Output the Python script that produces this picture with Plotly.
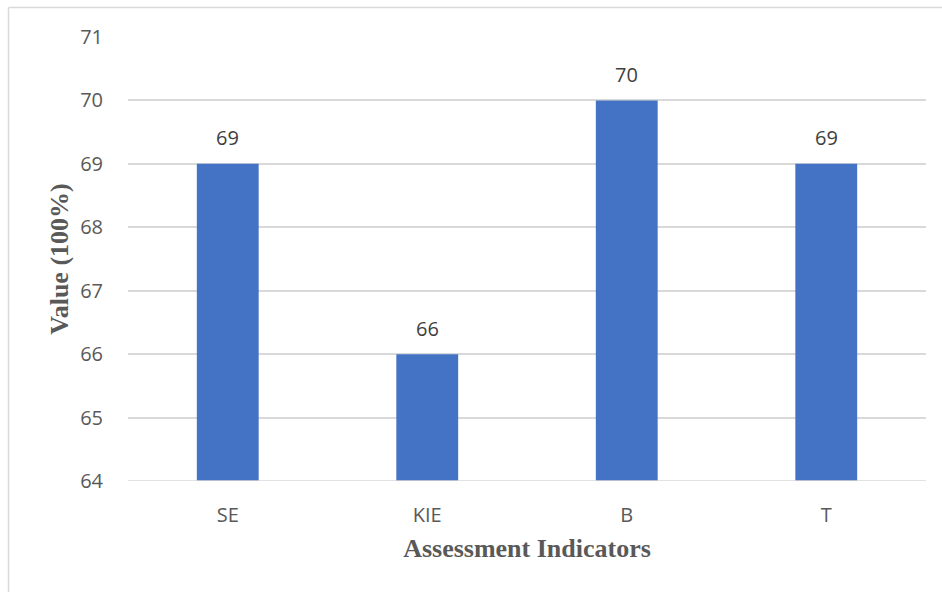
import plotly.graph_objects as go

categories = ["SE", "KIE", "B", "T"]
values = [69, 66, 70, 69]
y_ticks = [64, 65, 66, 67, 68, 69, 70, 71]

W, H = 942, 592
ml, mr, mt, mb = 128, 16, 37, 111
pw, ph = W - ml - mr, H - mt - mb

SANS = "Open Sans, Liberation Sans, sans-serif"
SERIF = "Liberation Serif, Times New Roman, serif"
GRID = "#D9D9D9"


def px_x(p):
    return (p - ml) / pw


def px_y(p):
    return (H - mb - p) / ph


fig = go.Figure(
    go.Bar(
        x=categories,
        y=values,
        marker=dict(color="#4472C4", line=dict(width=0)),
        width=0.31,
        hoverinfo="x+y",
    )
)

# value labels above each bar
for c, v in zip(categories, values):
    fig.add_annotation(
        x=c, y=v, text=str(v), showarrow=False,
        yanchor="middle", yshift=26,
        font=dict(family=SANS, size=20, color="#404040"),
    )

fig.update_layout(
    width=W,
    height=H,
    margin=dict(l=ml, r=mr, t=mt, b=mb),
    paper_bgcolor="white",
    plot_bgcolor="white",
    showlegend=False,
    xaxis=dict(
        showgrid=False,
        showline=False,
        ticks="",
        ticklabelstandoff=20,
        tickfont=dict(family=SANS, size=20, color="#595959"),
        title=dict(
            text="<b>Assessment Indicators</b>",
            font=dict(family=SERIF, size=26, color="#595959"),
            standoff=11,
        ),
    ),
    yaxis=dict(
        range=[64, 71],
        tickvals=y_ticks,
        ticktext=[str(t) for t in y_ticks],
        showgrid=True,
        gridcolor=GRID,
        gridwidth=1.5,
        zeroline=False,
        showline=False,
        ticks="",
        ticklabelstandoff=24,
        tickfont=dict(family=SANS, size=20, color="#595959"),
        title=dict(
            text="<b>Value (100%)</b>",
            font=dict(family=SERIF, size=26, color="#595959"),
            standoff=4,
        ),
    ),
    shapes=[
        # baseline of the value axis
        dict(type="line", xref="paper", yref="y", x0=0, x1=1, y0=64, y1=64,
             line=dict(color=GRID, width=1.5)),
        # chart frame
        dict(type="line", xref="paper", yref="paper", x0=px_x(8.5), x1=px_x(960),
             y0=px_y(7.5), y1=px_y(7.5), line=dict(color=GRID, width=1.5)),
        dict(type="line", xref="paper", yref="paper", x0=px_x(8.5), x1=px_x(8.5),
             y0=px_y(7.5), y1=px_y(620), line=dict(color=GRID, width=1.5)),
    ],
)

fig.write_html("out.html")
